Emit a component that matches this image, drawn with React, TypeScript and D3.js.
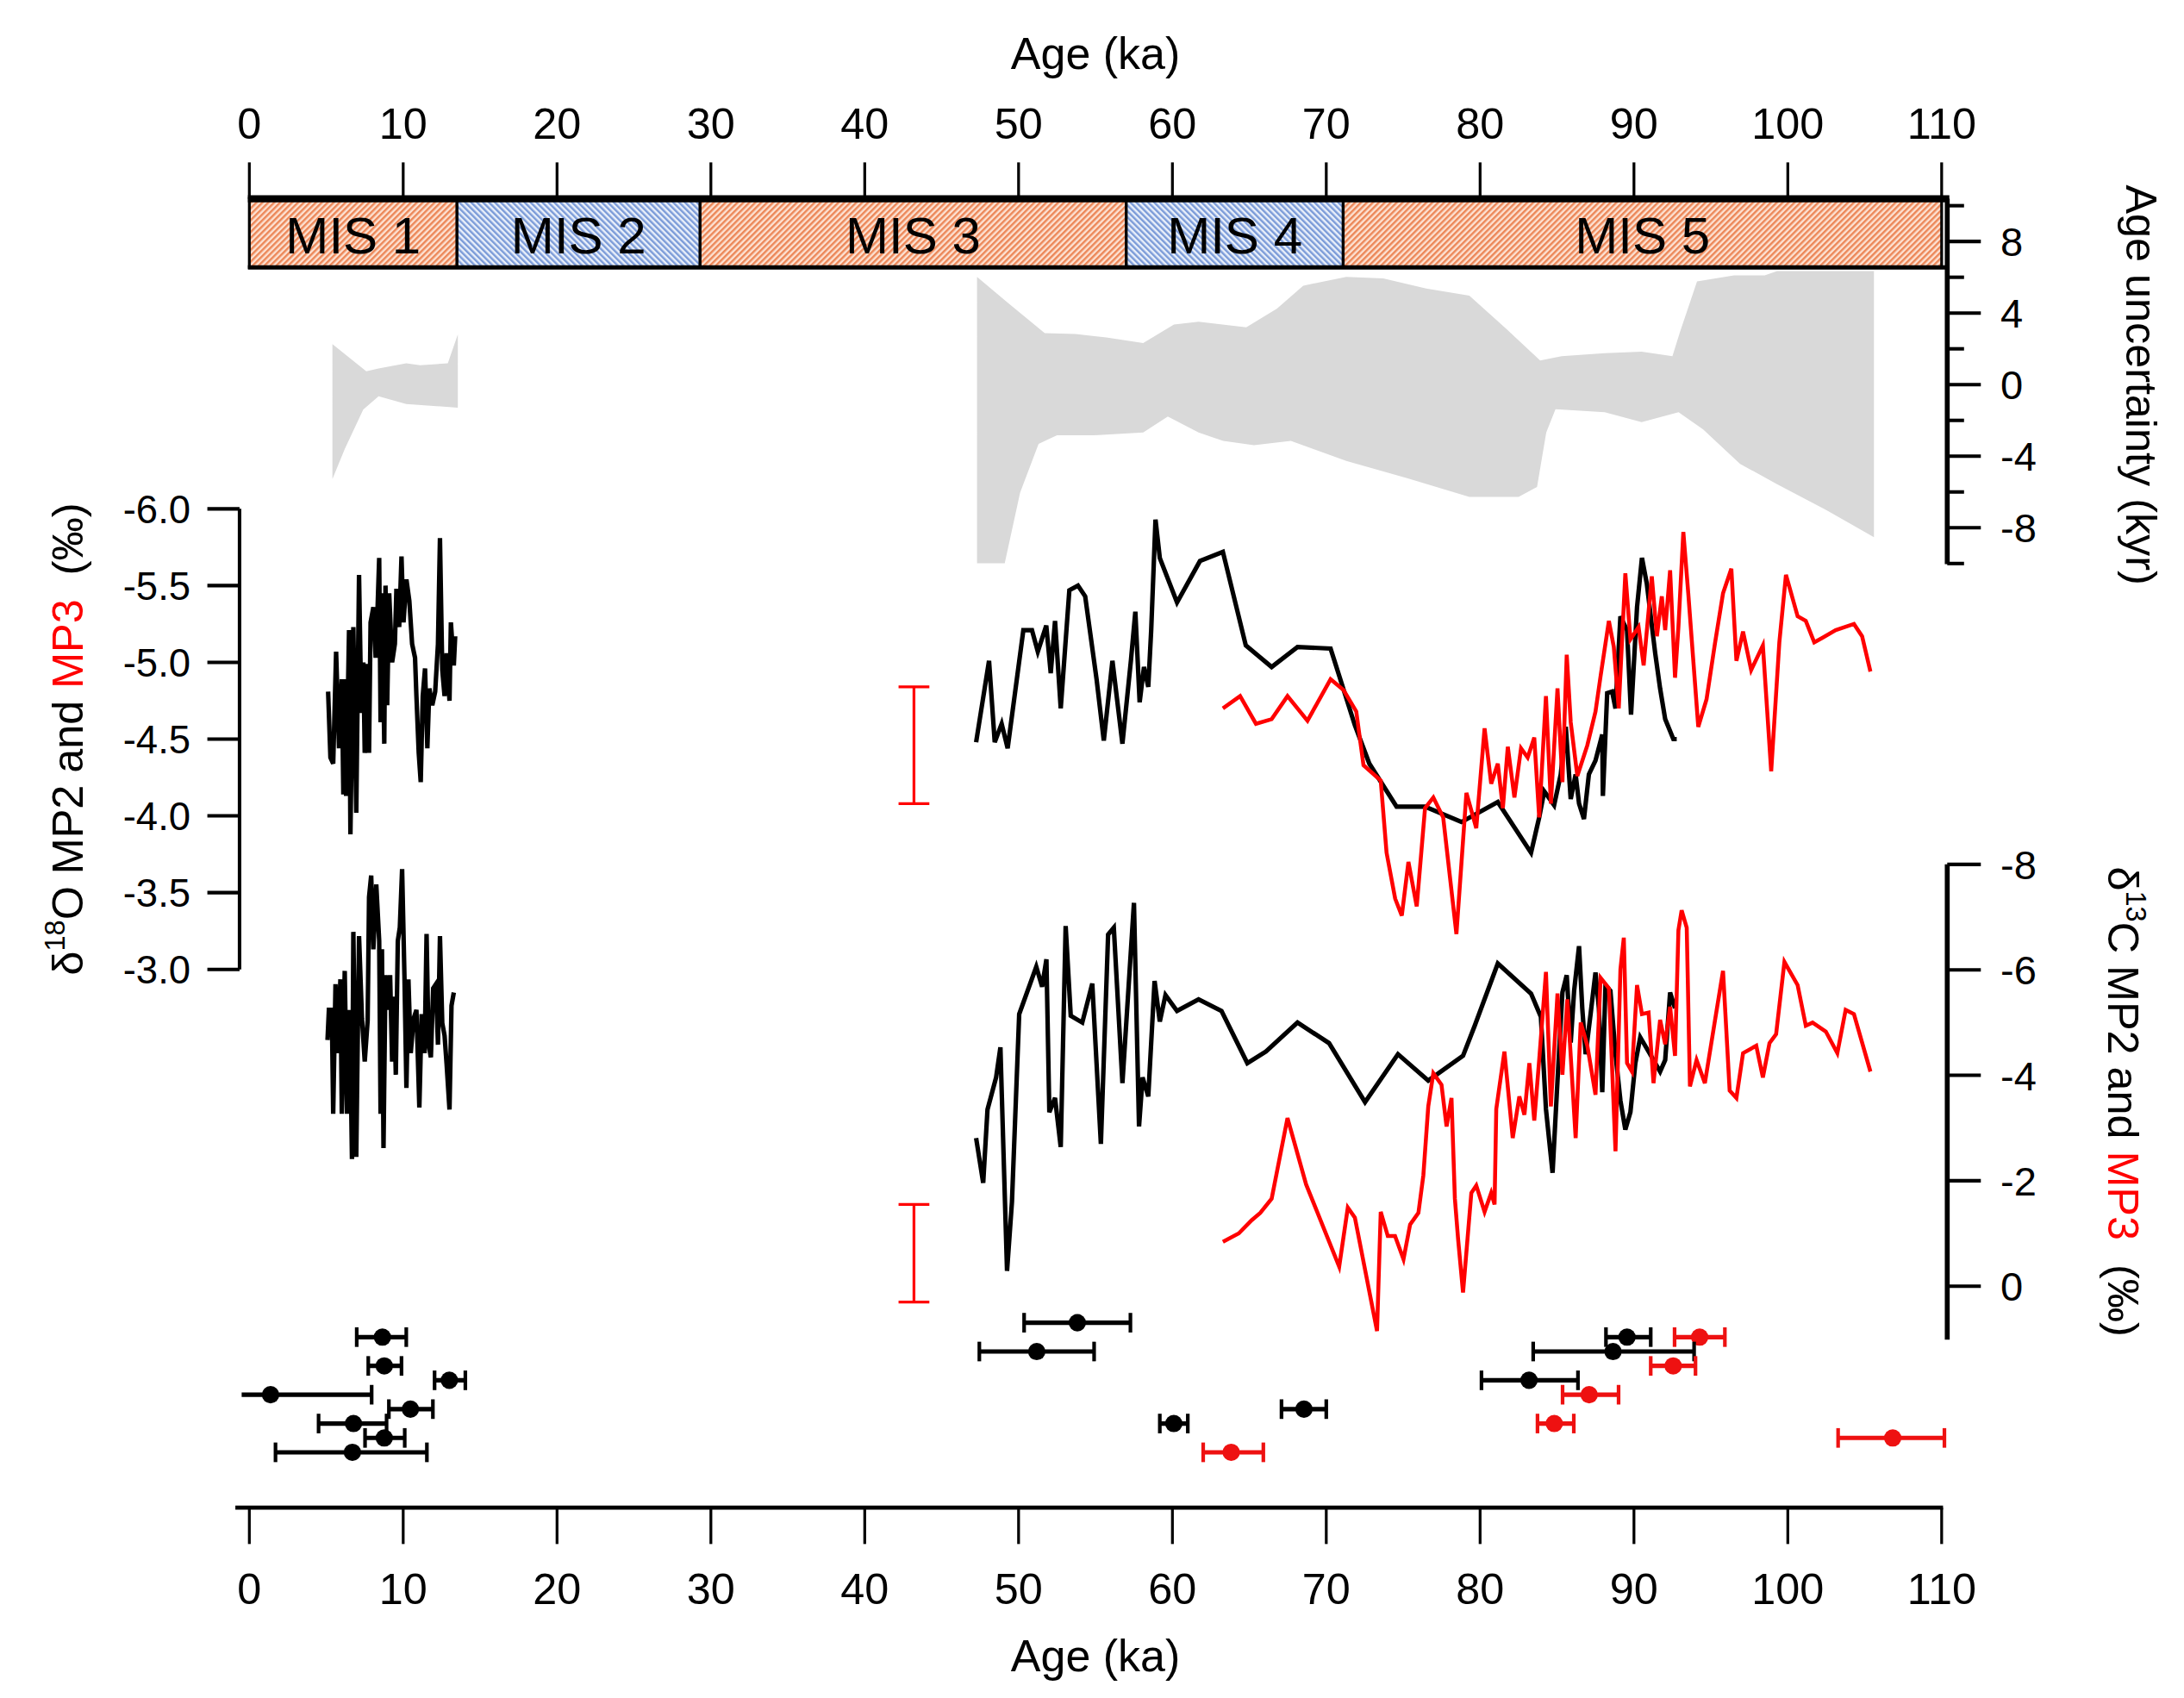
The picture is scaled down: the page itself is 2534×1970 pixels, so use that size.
import React, { useEffect } from "react";
import * as d3 from "d3";

// axes
const ageTicks = [0, 10, 20, 30, 40, 50, 60, 70, 80, 90, 100, 110];
const d18oTicks = [-6.0, -5.5, -5.0, -4.5, -4.0, -3.5, -3.0];
const d13cTicks = [-8, -6, -4, -2, 0];
const kyrMajorTicks = [8, 4, 0, -4, -8];
const kyrMinorTicks = [10, 6, 2, -2, -6, -10];

// marine isotope stages (ka)
const misStages = [
  { name: "MIS 1", start: 0, end: 13.5, warm: true },
  { name: "MIS 2", start: 13.5, end: 29.3, warm: false },
  { name: "MIS 3", start: 29.3, end: 57.0, warm: true },
  { name: "MIS 4", start: 57.0, end: 71.1, warm: false },
  { name: "MIS 5", start: 71.1, end: 110, warm: true },
];

// age model uncertainty envelopes [ka, kyr]
const envEarlyUpper = [[5.4, 2.26], [7.6, 0.75], [8.4, 0.9], [10.2, 1.19], [11.1, 1.08], [12.9, 1.19], [13.55, 2.8]];
const envEarlyLower = [[5.4, -5.28], [6.2, -3.6], [7.4, -1.4], [8.4, -0.65], [10.2, -1.08], [13.55, -1.29]];
const envLateUpper = [
  [47.3, 6.02], [49.3, 4.57], [51.7, 2.88], [53.7, 2.83], [55.7, 2.64], [58.1, 2.32], [60.1, 3.36],
  [61.7, 3.52], [64.8, 3.2], [66.8, 4.25], [68.5, 5.53], [71.3, 6.02], [73.7, 5.94], [76.5, 5.37],
  [79.3, 4.97], [81.7, 3.12], [83.9, 1.35], [85.3, 1.59], [88.1, 1.76], [90.5, 1.84], [92.5, 1.59],
  [93.0, 2.96], [94.1, 5.77], [96.5, 6.1], [98.5, 6.1], [99.3, 6.34], [105.6, 6.34],
];
const envLateLower = [
  [47.3, -9.98], [49.1, -9.98], [50.1, -6.04], [51.3, -3.31], [52.5, -2.83], [54.9, -2.83], [58.1, -2.67],
  [59.7, -1.78], [61.7, -2.67], [63.3, -3.15], [65.3, -3.39], [67.7, -3.15], [71.3, -4.27], [75.3, -5.24],
  [79.3, -6.28], [82.5, -6.28], [83.7, -5.72], [84.3, -2.67], [84.9, -1.38], [88.1, -1.54], [90.5, -2.1],
  [92.9, -1.54], [94.5, -2.51], [96.9, -4.43], [99.3, -5.56], [102.5, -7.01], [105.6, -8.53],
];

// δ18O MP2 (black)
const o18Mp2Early = [
  [5.12, -4.81], [5.27, -4.38], [5.45, -4.34], [5.64, -5.07], [5.83, -4.44], [6.01, -4.89], [6.11, -4.14],
  [6.2, -4.89], [6.29, -4.13], [6.48, -5.21], [6.57, -3.88], [6.76, -5.23], [6.95, -4.02], [7.13, -5.57],
  [7.28, -4.67], [7.41, -5.0], [7.5, -4.41], [7.69, -4.99], [7.78, -4.41], [7.88, -5.26], [8.06, -5.36],
  [8.21, -5.03], [8.34, -5.37], [8.44, -5.68], [8.53, -4.61], [8.62, -5.45], [8.77, -4.47], [8.85, -5.5],
  [8.96, -4.72], [9.09, -5.45], [9.28, -5.0], [9.46, -5.12], [9.56, -5.48], [9.74, -5.23], [9.89, -5.69],
  [10.02, -5.26], [10.21, -5.54], [10.4, -5.4], [10.58, -5.12], [10.77, -5.03], [10.86, -4.78], [11.01, -4.41],
  [11.14, -4.22], [11.27, -4.78], [11.42, -4.96], [11.57, -4.44], [11.7, -4.83], [11.89, -4.72], [12.08, -4.81],
  [12.26, -5.12], [12.39, -5.81], [12.54, -4.95], [12.69, -4.78], [12.82, -5.06], [13.01, -4.75], [13.1, -5.26],
  [13.29, -4.98], [13.38, -5.17],
];
const o18Mp2Late = [
  [47.24, -4.48], [48.08, -5.01], [48.45, -4.48], [48.9, -4.6], [49.29, -4.44], [50.31, -5.21], [50.87, -5.21],
  [51.25, -5.07], [51.8, -5.24], [52.09, -4.93], [52.37, -5.27], [52.74, -4.7], [53.3, -5.47], [53.86, -5.5],
  [54.33, -5.43], [55.07, -4.89], [55.54, -4.49], [56.1, -5.01], [56.75, -4.47], [57.31, -5.02], [57.59, -5.33],
  [57.87, -4.74], [58.15, -4.97], [58.43, -4.84], [58.62, -5.21], [58.9, -5.93], [59.18, -5.68], [60.3, -5.39],
  [61.79, -5.66], [63.28, -5.72], [64.77, -5.11], [66.45, -4.97], [68.13, -5.1], [70.28, -5.09], [71.86, -4.59],
  [72.8, -4.34], [74.57, -4.06], [76.42, -4.06], [78.79, -3.96], [81.15, -4.09], [83.31, -3.76], [83.84, -3.99],
  [84.17, -4.16], [84.81, -4.07], [85.24, -4.27], [85.57, -4.58], [85.89, -4.11], [86.21, -4.27], [86.43, -4.08],
  [86.75, -3.98], [87.07, -4.27], [87.5, -4.36], [87.94, -4.53], [87.98, -4.13], [88.26, -4.8], [88.58, -4.81],
  [88.8, -4.7], [89.12, -5.3], [89.55, -5.21], [89.81, -4.66], [90.2, -5.36], [90.52, -5.68], [90.84, -5.51],
  [91.38, -5.06], [91.7, -4.83], [92.03, -4.63], [92.56, -4.5], [92.78, -4.5],
];
// δ18O MP3 (red)
const o18Mp3 = [
  [63.28, -4.7], [64.4, -4.78], [65.43, -4.6], [66.45, -4.63], [67.48, -4.78], [68.78, -4.62], [70.28, -4.89],
  [71.12, -4.82], [71.95, -4.68], [72.42, -4.33], [73.54, -4.23], [73.92, -3.76], [74.48, -3.46], [74.91, -3.35],
  [75.34, -3.7], [75.88, -3.41], [76.42, -4.05], [76.96, -4.12], [77.6, -3.99], [78.46, -3.23], [79.11, -4.15],
  [79.75, -3.92], [80.29, -4.57], [80.72, -4.21], [81.15, -4.34], [81.48, -4.05], [81.8, -4.45], [82.23, -4.12],
  [82.66, -4.44], [83.09, -4.38], [83.52, -4.51], [83.84, -3.99], [84.28, -4.78], [84.6, -4.08], [85.03, -4.83],
  [85.35, -4.22], [85.63, -5.05], [85.89, -4.61], [86.32, -4.26], [86.97, -4.46], [87.5, -4.68], [87.83, -4.91],
  [88.37, -5.27], [88.69, -5.1], [89.01, -4.7], [89.44, -5.58], [89.77, -5.15], [90.3, -5.23], [90.63, -4.98],
  [91.16, -5.56], [91.49, -5.17], [91.81, -5.43], [92.03, -5.21], [92.35, -5.6], [92.67, -4.9], [92.89, -5.23],
  [93.21, -5.85], [93.53, -5.45], [94.18, -4.58], [94.72, -4.76], [95.26, -5.12], [95.79, -5.45], [96.33, -5.61],
  [96.66, -5.01], [97.09, -5.2], [97.62, -4.95], [98.38, -5.11], [98.92, -4.29], [99.45, -5.13], [99.88, -5.57],
  [100.64, -5.3], [101.17, -5.27], [101.72, -5.13], [102.25, -5.16], [103.11, -5.21], [104.3, -5.25],
  [104.83, -5.17], [105.37, -4.94],
];

// δ13C MP2 (black)
const c13Mp2Early = [
  [5.08, -4.67], [5.17, -5.24], [5.36, -5.24], [5.45, -3.27], [5.6, -5.73], [5.73, -4.42], [5.92, -5.82],
  [6.01, -3.27], [6.2, -5.98], [6.35, -3.27], [6.53, -5.24], [6.67, -2.41], [6.76, -6.72], [6.95, -2.45],
  [7.13, -6.64], [7.32, -5.08], [7.5, -4.26], [7.69, -5.04], [7.78, -7.38], [7.92, -7.79], [8.06, -6.39],
  [8.25, -7.62], [8.44, -6.55], [8.53, -3.27], [8.62, -6.39], [8.72, -2.62], [8.85, -5.9], [9.0, -5.24],
  [9.15, -5.9], [9.28, -4.26], [9.41, -5.49], [9.52, -4.01], [9.65, -6.55], [9.78, -6.8], [9.93, -7.91],
  [10.08, -5.9], [10.21, -3.76], [10.34, -5.82], [10.49, -4.42], [10.68, -5.08], [10.86, -5.24], [11.05, -3.39],
  [11.2, -5.16], [11.39, -4.42], [11.52, -6.68], [11.65, -4.58], [11.8, -4.34], [11.95, -5.65], [12.13, -5.73],
  [12.26, -4.58], [12.39, -6.64], [12.54, -4.99], [12.69, -4.75], [12.82, -4.22], [13.01, -3.35], [13.14, -5.32],
  [13.29, -5.57],
];
const c13Mp2Late = [
  [47.24, -2.81], [47.7, -1.96], [47.98, -3.35], [48.54, -3.96], [48.82, -4.53], [49.01, -2.64], [49.25, -0.29],
  [49.57, -1.6], [50.04, -5.16], [51.15, -6.06], [51.53, -5.68], [51.81, -6.2], [52.0, -3.3], [52.37, -3.57],
  [52.74, -2.64], [53.06, -6.83], [53.39, -5.13], [54.14, -5.0], [54.79, -5.74], [55.35, -2.7], [55.82, -6.67],
  [56.19, -6.8], [56.75, -3.85], [57.5, -7.27], [57.83, -3.03], [58.06, -3.96], [58.43, -3.6], [58.84, -5.79],
  [59.18, -5.02], [59.55, -5.52], [60.3, -5.22], [61.7, -5.44], [63.19, -5.22], [64.87, -4.23], [66.08, -4.45],
  [68.13, -5.0], [70.18, -4.61], [72.52, -3.49], [74.66, -4.4], [76.63, -3.9], [78.89, -4.37], [79.65, -4.94],
  [81.15, -6.12], [83.31, -5.55], [83.95, -5.11], [84.28, -3.36], [84.71, -2.15], [85.03, -3.9], [85.35, -5.57],
  [85.63, -5.9], [85.89, -4.62], [86.11, -5.6], [86.43, -6.45], [86.64, -5.27], [86.86, -4.4], [87.18, -5.16],
  [87.5, -5.95], [87.72, -5.27], [87.94, -3.68], [88.15, -5.71], [88.47, -5.6], [88.8, -4.4], [89.12, -3.52],
  [89.44, -2.97], [89.77, -3.3], [90.09, -4.23], [90.41, -4.72], [90.95, -4.45], [91.7, -4.07], [92.03, -4.29],
  [92.35, -5.57], [92.67, -5.27],
];
// δ13C MP3 (red)
const c13Mp3 = [
  [63.28, -0.84], [64.31, -1.0], [65.15, -1.25], [65.71, -1.39], [66.45, -1.66], [67.48, -3.19], [68.69, -1.93],
  [70.84, -0.37], [71.4, -1.49], [71.86, -1.3], [73.3, 0.85], [73.54, -1.41], [74.0, -0.95], [74.47, -0.95],
  [75.02, -0.51], [75.45, -1.17], [75.99, -1.39], [76.31, -2.1], [76.63, -3.41], [76.96, -4.04], [77.49, -3.82],
  [77.82, -3.03], [78.14, -3.57], [78.36, -1.66], [78.57, -0.89], [78.89, 0.12], [79.43, -1.77], [79.75, -1.91],
  [80.29, -1.41], [80.72, -1.77], [80.94, -1.55], [81.05, -3.36], [81.58, -4.45], [82.12, -2.81], [82.55, -3.6],
  [82.88, -3.25], [83.2, -4.23], [83.52, -3.14], [83.84, -4.29], [84.28, -5.96], [84.6, -3.41], [85.03, -5.55],
  [85.35, -4.01], [85.67, -5.44], [86.21, -2.81], [86.54, -5.0], [86.97, -4.56], [87.5, -3.63], [87.83, -5.85],
  [88.37, -5.65], [88.8, -2.56], [89.12, -6.01], [89.34, -6.61], [89.55, -4.23], [89.87, -4.07], [90.2, -5.71],
  [90.52, -5.16], [90.95, -5.19], [91.27, -3.85], [91.7, -5.05], [92.03, -4.59], [92.35, -5.3], [92.67, -4.37],
  [92.89, -6.75], [93.1, -7.13], [93.43, -6.8], [93.64, -3.79], [94.07, -4.29], [94.61, -3.85], [95.26, -5.03],
  [95.79, -5.98], [96.22, -3.71], [96.66, -3.57], [97.09, -4.42], [97.95, -4.56], [98.38, -3.96], [98.81, -4.61],
  [99.24, -4.78], [99.78, -6.15], [100.64, -5.71], [101.17, -4.94], [101.61, -5.0], [102.47, -4.83],
  [103.22, -4.42], [103.76, -5.24], [104.3, -5.16], [105.37, -4.07],
];

// analytical uncertainty bars
const errBarAge = 43.2;
const errBarO18 = [-4.84, -4.08];
const errBarC13 = [-1.55, 0.3];

// U-Th dates: age, low, high (ka), stacking row, core
const datedAges = [
  { age: 53.82, lo: 50.36, hi: 57.27, row: 0, core: "MP2" },
  { age: 8.65, lo: 6.98, hi: 10.2, row: 1, core: "MP2" },
  { age: 89.55, lo: 88.18, hi: 91.09, row: 1, core: "MP2" },
  { age: 94.27, lo: 92.64, hi: 95.91, row: 1, core: "MP3" },
  { age: 51.18, lo: 47.45, hi: 54.91, row: 2, core: "MP2" },
  { age: 88.64, lo: 83.45, hi: 93.91, row: 2, core: "MP2" },
  { age: 8.77, lo: 7.73, hi: 9.89, row: 3, core: "MP2" },
  { age: 92.55, lo: 91.09, hi: 94.0, row: 3, core: "MP3" },
  { age: 13.0, lo: 12.04, hi: 14.04, row: 4, core: "MP2" },
  { age: 83.18, lo: 80.09, hi: 86.36, row: 4, core: "MP2" },
  { age: 1.38, lo: -0.5, hi: 7.95, row: 5, core: "MP2" },
  { age: 87.09, lo: 85.36, hi: 89.0, row: 5, core: "MP3" },
  { age: 10.47, lo: 9.07, hi: 11.93, row: 6, core: "MP2" },
  { age: 68.55, lo: 67.09, hi: 70.0, row: 6, core: "MP2" },
  { age: 6.77, lo: 4.5, hi: 8.92, row: 7, core: "MP2" },
  { age: 60.09, lo: 59.18, hi: 61.0, row: 7, core: "MP2" },
  { age: 84.82, lo: 83.73, hi: 86.09, row: 7, core: "MP3" },
  { age: 8.77, lo: 7.52, hi: 10.1, row: 8, core: "MP2" },
  { age: 106.82, lo: 103.27, hi: 110.18, row: 8, core: "MP3" },
  { age: 6.7, lo: 1.7, hi: 11.54, row: 9, core: "MP2" },
  { age: 63.82, lo: 62.0, hi: 65.91, row: 9, core: "MP3" },
];

const RED = "#ff0000";
const FONT = "'Liberation Sans', Arial, Helvetica, sans-serif";

export default function App() {
  useEffect(() => {
    document.body.style.margin = "0";
    document.body.style.overflow = "hidden";
  }, []);

  const x = d3.scaleLinear().domain([0, 110]).range([178, 1387]);
  const yK = d3.scaleLinear().domain([-8, 8]).range([377, 172.5]);
  const yO = d3.scaleLinear().domain([-6, -3]).range([363.5, 692.5]);
  const yC = d3.scaleLinear().domain([-8, 0]).range([617.5, 918.8]);
  const yRow = d3.scaleLinear().domain([0, 9]).range([944.9, 1037.5]);

  const lineO = d3.line<number[]>().x((d) => x(d[0])).y((d) => yO(d[1]));
  const lineC = d3.line<number[]>().x((d) => x(d[0])).y((d) => yC(d[1]));
  const lineK = d3.line<number[]>().x((d) => x(d[0])).y((d) => yK(d[1]));
  const envelope = (upper: number[][], lower: number[][]) =>
    lineK([...upper, ...lower.slice().reverse()]) + "Z";

  const barTop = 142;
  const barBottom = 191;
  const axisR = 1391;
  const axisL = 171;
  const bottomY = 1077;

  return (
    <div style={{ position: "absolute", left: 0, top: 0 }}>
      <svg width={2534} height={1970} viewBox="0 0 1560 1213" fontFamily={FONT}>
        <defs>
          <pattern id="hatchWarm" patternUnits="userSpaceOnUse" width="3" height="3" patternTransform="rotate(45)">
            <rect width="3" height="3" fill="#fde2d3" />
            <rect width="1.5" height="3" fill="#ec8758" />
          </pattern>
          <pattern id="hatchCold" patternUnits="userSpaceOnUse" width="3" height="3" patternTransform="rotate(-45)">
            <rect width="3" height="3" fill="#eaf0fa" />
            <rect width="1.5" height="3" fill="#7b9bd8" />
          </pattern>
        </defs>
        <rect x={0} y={0} width={1560} height={1213} fill="#fff" />

        {/* age uncertainty envelopes */}
        <path d={envelope(envEarlyUpper, envEarlyLower)} fill="#d9d9d9" />
        <path d={envelope(envLateUpper, envLateLower)} fill="#d9d9d9" />

        {/* MIS bar */}
        {misStages.map((s) => (
          <g key={s.name}>
            <rect
              x={x(s.start)}
              y={barTop}
              width={x(s.end) - x(s.start)}
              height={barBottom - barTop}
              fill={s.warm ? "url(#hatchWarm)" : "url(#hatchCold)"}
              stroke="#000"
              strokeWidth={2}
            />
            <text
              x={(x(s.start) + x(s.end)) / 2}
              y={181}
              fontSize={37}
              textAnchor="middle"
              fill="#000"
            >
              {s.name}
            </text>
          </g>
        ))}
        <line x1={x(0) - 1} x2={axisR + 1} y1={barBottom} y2={barBottom} stroke="#000" strokeWidth={3} />

        {/* top age axis */}
        <line x1={x(0) - 1} x2={axisR + 1.5} y1={barTop} y2={barTop} stroke="#000" strokeWidth={5} />
        {ageTicks.map((t) => (
          <g key={"tt" + t}>
            <line x1={x(t)} x2={x(t)} y1={barTop} y2={116} stroke="#000" strokeWidth={2} />
            <text x={x(t)} y={99} fontSize={31} textAnchor="middle">
              {t}
            </text>
          </g>
        ))}
        <text x={x(55)} y={49} fontSize={32} textAnchor="middle">
          Age (ka)
        </text>

        {/* right age-uncertainty axis */}
        <line x1={axisR} x2={axisR} y1={barTop} y2={403} stroke="#000" strokeWidth={3.5} />
        {kyrMajorTicks.map((t) => (
          <g key={"k" + t}>
            <line x1={axisR} x2={axisR + 24} y1={yK(t)} y2={yK(t)} stroke="#000" strokeWidth={2.5} />
            <text x={axisR + 38} y={yK(t) + 10.5} fontSize={29}>
              {t}
            </text>
          </g>
        ))}
        {kyrMinorTicks.map((t) => (
          <line key={"km" + t} x1={axisR} x2={axisR + 12} y1={yK(t)} y2={yK(t)} stroke="#000" strokeWidth={2.5} />
        ))}
        <text transform="translate(1519,275) rotate(90)" fontSize={31} textAnchor="middle">
          Age uncertainty (kyr)
        </text>

        {/* left δ18O axis */}
        <line x1={axisL} x2={axisL} y1={yO(-6)} y2={yO(-3)} stroke="#000" strokeWidth={2.5} />
        {d18oTicks.map((t) => (
          <g key={"o" + t}>
            <line x1={axisL} x2={148} y1={yO(t)} y2={yO(t)} stroke="#000" strokeWidth={2.5} />
            <text x={136} y={yO(t) + 10} fontSize={28} textAnchor="end">
              {t.toFixed(1)}
            </text>
          </g>
        ))}
        <text transform="translate(59,528) rotate(-90)" fontSize={31} textAnchor="middle">
          <tspan>δ</tspan>
          <tspan fontSize={20} dy={-13}>18</tspan>
          <tspan dy={13}>O MP2 and </tspan>
          <tspan fill={RED}>MP3</tspan>
          <tspan>{"\u00a0 (‰)"}</tspan>
        </text>

        {/* right δ13C axis */}
        <line x1={axisR} x2={axisR} y1={yC(-8)} y2={957} stroke="#000" strokeWidth={3.5} />
        {d13cTicks.map((t) => (
          <g key={"c" + t}>
            <line x1={axisR} x2={axisR + 24} y1={yC(t)} y2={yC(t)} stroke="#000" strokeWidth={2.5} />
            <text x={axisR + 38} y={yC(t) + 10.5} fontSize={29}>
              {t}
            </text>
          </g>
        ))}
        <text transform="translate(1506,787) rotate(90)" fontSize={31} textAnchor="middle">
          <tspan>δ</tspan>
          <tspan fontSize={20} dy={-13}>13</tspan>
          <tspan dy={13}>C MP2 and </tspan>
          <tspan fill={RED}>MP3</tspan>
          <tspan>{"\u00a0 (‰)"}</tspan>
        </text>

        {/* analytical error bars */}
        <g stroke={RED} strokeWidth={2}>
          <line x1={x(errBarAge)} x2={x(errBarAge)} y1={yO(errBarO18[0])} y2={yO(errBarO18[1])} />
          <line x1={x(errBarAge) - 11} x2={x(errBarAge) + 11} y1={yO(errBarO18[0])} y2={yO(errBarO18[0])} />
          <line x1={x(errBarAge) - 11} x2={x(errBarAge) + 11} y1={yO(errBarO18[1])} y2={yO(errBarO18[1])} />
          <line x1={x(errBarAge)} x2={x(errBarAge)} y1={yC(errBarC13[0])} y2={yC(errBarC13[1])} />
          <line x1={x(errBarAge) - 11} x2={x(errBarAge) + 11} y1={yC(errBarC13[0])} y2={yC(errBarC13[0])} />
          <line x1={x(errBarAge) - 11} x2={x(errBarAge) + 11} y1={yC(errBarC13[1])} y2={yC(errBarC13[1])} />
        </g>

        {/* isotope records */}
        <g fill="none" strokeWidth={3.2}>
          <path d={lineO(o18Mp2Early) || ""} stroke="#000" />
          <path d={lineO(o18Mp2Late) || ""} stroke="#000" />
          <path d={lineC(c13Mp2Early) || ""} stroke="#000" />
          <path d={lineC(c13Mp2Late) || ""} stroke="#000" />
          <path d={lineO(o18Mp3) || ""} stroke={RED} strokeWidth={2.8} />
          <path d={lineC(c13Mp3) || ""} stroke={RED} strokeWidth={2.8} />
        </g>

        {/* U-Th ages */}
        {datedAges.map((d, i) => {
          const col = d.core === "MP2" ? "#000" : "#ee1111";
          const yy = yRow(d.row);
          return (
            <g key={"d" + i} stroke={col} fill={col}>
              <line x1={x(d.lo)} x2={x(d.hi)} y1={yy} y2={yy} strokeWidth={3.2} />
              {d.lo >= 0 && <line x1={x(d.lo)} x2={x(d.lo)} y1={yy - 7} y2={yy + 7} strokeWidth={2.6} />}
              <line x1={x(d.hi)} x2={x(d.hi)} y1={yy - 7} y2={yy + 7} strokeWidth={2.6} />
              <circle cx={x(d.age)} cy={yy} r={6.2} stroke="none" />
            </g>
          );
        })}

        {/* bottom age axis */}
        <line x1={168} x2={x(110) + 1} y1={bottomY} y2={bottomY} stroke="#000" strokeWidth={3} />
        {ageTicks.map((t) => (
          <g key={"bt" + t}>
            <line x1={x(t)} x2={x(t)} y1={bottomY} y2={bottomY + 26} stroke="#000" strokeWidth={2} />
            <text x={x(t)} y={1146} fontSize={31} textAnchor="middle">
              {t}
            </text>
          </g>
        ))}
        <text x={x(55)} y={1194} fontSize={32} textAnchor="middle">
          Age (ka)
        </text>
      </svg>
    </div>
  );
}
